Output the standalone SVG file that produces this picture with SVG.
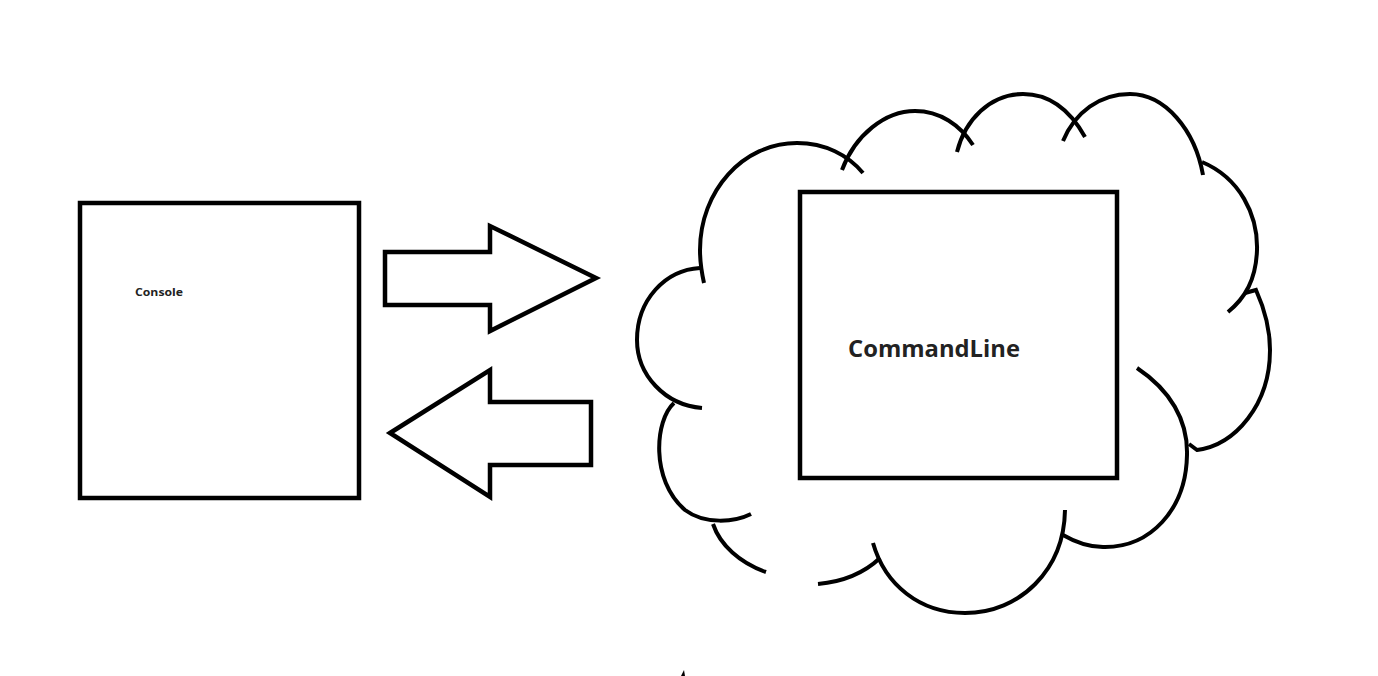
<svg xmlns="http://www.w3.org/2000/svg" width="1378" height="676" viewBox="0 0 1378 676">
<style>
.box{fill:#fff;stroke:#000;stroke-width:4.5}
.cl{fill:none;stroke:#000;stroke-width:4;stroke-linecap:butt}
.arr{fill:#fff;stroke:#000;stroke-width:4.5;stroke-linejoin:miter}
.lbl{font-family:"Open Sans","Noto Sans","DejaVu Sans",sans-serif;font-weight:700;fill:#222}
</style>
<rect width="1378" height="676" fill="#fff"/>
<g id="cloud">
<path class="cl" d="M704,283 Q700,265 700,250 C700,191 743,143 797,143 C825,143 848,155 863,173"/>
<path class="cl" d="M842,170 C855,135 885,111 915,111 C940,111 960,125 973,145"/>
<path class="cl" d="M957,152 C965,120 990,94 1023,94 C1050,94 1070,110 1085,137"/>
<path class="cl" d="M1063,141 C1075,112 1100,94 1130,94 C1165,94 1195,130 1203,175"/>
<path class="cl" d="M1202,162 C1240,178 1258,215 1257,250 C1256,280 1245,298 1228,312"/>
<path class="cl" d="M1245,293 L1256,290 C1265,310 1270,330 1270,350 C1270,405 1235,445 1197,450 L1189,444"/>
<path class="cl" d="M1137,368 C1170,390 1188,420 1187,455 C1186,510 1150,548 1103,547 C1088,547 1075,542 1063,535"/>
<path class="cl" d="M1065,510 C1064,570 1020,613 965,613 C920,613 885,585 873,543"/>
<path class="cl" d="M818,584 C840,582 862,575 880,558"/>
<path class="cl" d="M713,524 C720,545 740,563 766,572"/>
<path class="cl" d="M674,403 C655,420 650,480 685,510 C705,525 735,522 751,514"/>
<path class="cl" d="M700,268 C665,270 637,300 637,340 C637,375 665,405 702,408"/>
<path d="M681,676 L684,670 L685,676 Z" fill="#000"/>
</g>
<g id="console">
<rect class="box" x="80" y="203" width="279" height="295"/>
<text class="lbl" x="135" y="296" font-size="11" textLength="48" lengthAdjust="spacingAndGlyphs">Console</text>
</g>
<g id="commandline">
<rect class="box" x="800" y="192" width="317" height="286"/>
<text class="lbl" x="848" y="357" font-size="23.5" textLength="172" lengthAdjust="spacingAndGlyphs">CommandLine</text>
</g>
<g id="connectors">
<polygon class="arr" points="385,252 490,252 490,226 596,278 490,331 490,305 385,305"/>
<polygon class="arr" points="390,433 490,370 490,402 591,402 591,465 490,465 490,497"/>
</g>
</svg>
